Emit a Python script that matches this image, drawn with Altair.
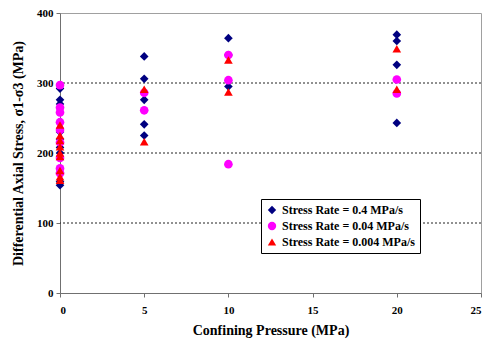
import altair as alt
import pandas as pd

# ---- data ----
rates = ["Stress Rate = 0.4 MPa/s", "Stress Rate = 0.04 MPa/s", "Stress Rate = 0.004 MPa/s"]
colors = ["#000080", "#FF00FF", "#FF0000"]
shapes = ["diamond", "circle", "triangle-up"]

cp_04 = [0, 0, 0, 0, 0, 0, 0, 0, 0, 0, 5, 5, 5, 5, 5, 10, 10, 10, 20, 20, 20, 20]
sd_04 = [292, 276, 270, 230, 220, 208, 200, 172, 159, 154, 338, 306, 276, 241, 225, 364, 340, 295, 369, 360, 326, 243]

cp_004 = [0, 0, 0, 0, 0, 0, 0, 0, 0, 5, 5, 10, 10, 10, 20, 20]
sd_004 = [297, 265, 258, 244, 233, 215, 193, 178, 171, 286, 261, 340, 304, 184, 305, 285]

cp_0004 = [0, 0, 0, 0, 0, 0, 0, 0, 0, 5, 5, 10, 10, 20, 20]
sd_0004 = [240, 225, 218, 209, 200, 195, 175, 166, 161, 291, 216, 333, 287, 349, 291]

grid_vals = [100, 200, 300]
x_ticks = [0, 5, 10, 15, 20, 25]
y_ticks = [0, 100, 200, 300, 400]

rows = []
for k, (cps, sds) in enumerate([(cp_04, sd_04), (cp_004, sd_004), (cp_0004, sd_0004)]):
    for c, s in zip(cps, sds):
        rows.append({"cp": c, "sd": s, "rate": rates[k], "ord": k})
df = pd.DataFrame(rows)
gdf = pd.DataFrame({"v": grid_vals})

FONT = "Liberation Serif"

legend = alt.Legend(orient="none", legendX=201, legendY=186, title=None)

grid = alt.Chart(gdf).mark_rule(strokeDash=[2, 2], color="#222222", strokeWidth=1).encode(
    y=alt.Y("v:Q", scale=alt.Scale(domain=[0, 400]))
)

pts = alt.Chart(df).mark_point(filled=True, opacity=1, size=75).encode(
    x=alt.X("cp:Q", scale=alt.Scale(domain=[0, 25], nice=False),
            axis=alt.Axis(values=x_ticks, title="Confining Pressure (MPa)", grid=False,
                          tickSize=4, labelPadding=7, titlePadding=8)),
    y=alt.Y("sd:Q", scale=alt.Scale(domain=[0, 400], nice=False),
            axis=alt.Axis(values=y_ticks, title="Differential Axial Stress, σ1-σ3 (MPa)", grid=False,
                          tickSize=4, labelPadding=3, titleX=-35, titleY=140,
                          titleAngle=-90, titleAlign="center", titleBaseline="bottom")),
    color=alt.Color("rate:N", scale=alt.Scale(domain=rates, range=colors), legend=legend),
    shape=alt.Shape("rate:N", scale=alt.Scale(domain=rates, range=shapes), legend=legend),
    order=alt.Order("ord:Q"),
)

chart = alt.layer(grid, pts).properties(
    width=421, height=280,
    autosize=alt.AutoSizeParams(type="none"),
    padding={"left": 60, "top": 13, "right": 19, "bottom": 59},
    background="white",
).configure_view(
    stroke="#A0A0A0", strokeWidth=1
).configure_axis(
    labelFont=FONT, titleFont=FONT, labelFontSize=11, titleFontSize=14,
    labelFontWeight="bold", titleFontWeight="bold",
    labelColor="black", titleColor="black",
    domainColor="#707070", tickColor="#707070",
).configure_legend(
    labelFont=FONT, labelFontSize=12, labelFontWeight="bold", labelColor="black",
    strokeColor="black", fillColor="white", padding=5, rowPadding=4,
    symbolSize=70, labelOffset=4, symbolStrokeWidth=0, cornerRadius=0,
)

chart.save("out.html", embed_options={"renderer": "svg", "actions": False})
